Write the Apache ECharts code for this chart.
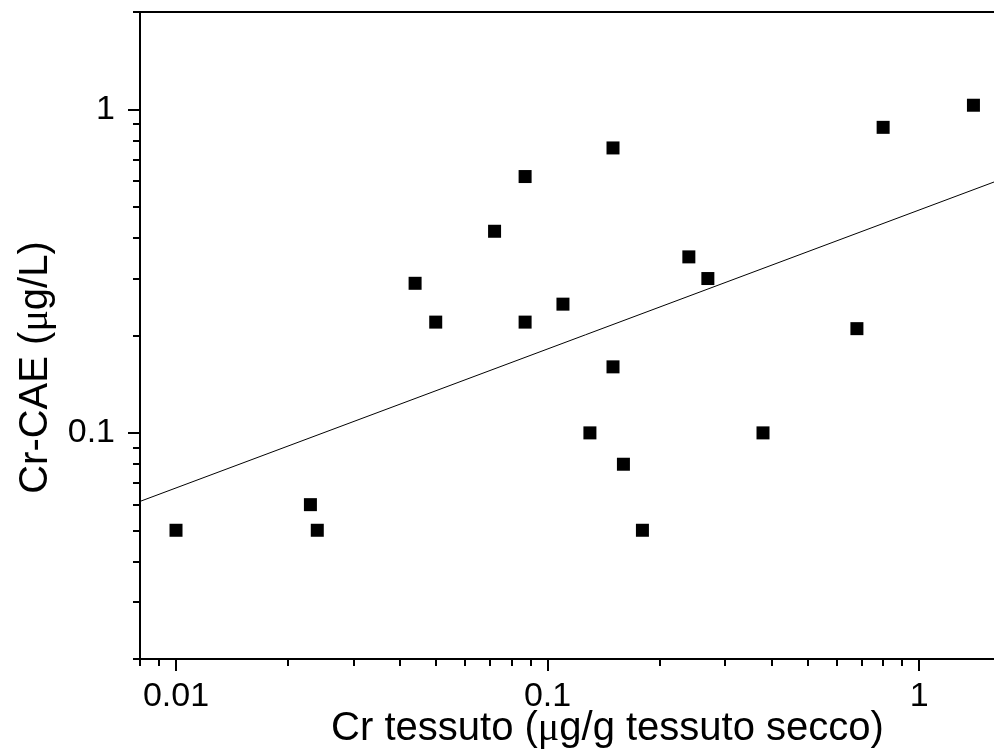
<!DOCTYPE html>
<html><head><meta charset="utf-8">
<script src="https://cdn.jsdelivr.net/npm/echarts@6/dist/echarts.min.js"></script>
<style>html,body{margin:0;padding:0;overflow:hidden;background:#fff}#c{width:1100px;height:754px}</style>
</head><body><div id="c"></div>
<script>
// Data
const tissueCr = [0.010, 0.023, 0.024, 0.044, 0.050, 0.072, 0.087, 0.087, 0.110, 0.150, 0.150, 0.130, 0.160, 0.180, 0.240, 0.270, 0.380, 0.680, 0.800, 1.40];
const caeCr    = [0.050, 0.060, 0.050, 0.290, 0.220, 0.420, 0.620, 0.220, 0.250, 0.760, 0.160, 0.100, 0.080, 0.050, 0.350, 0.300, 0.100, 0.210, 0.880, 1.03];
// regression line end points (log-log straight line)
const fitX = [0.008, 2];
const fitY = [0.0614, 0.658];
// axis ticks
const xRange = [0.008, 2];
const yRange = [0.02, 2];
const xMajorTicks = [0.01, 0.1, 1];
const xMinorTicks = [0.008, 0.009, 0.02, 0.03, 0.04, 0.05, 0.06, 0.07, 0.08, 0.09, 0.2, 0.3, 0.4, 0.5, 0.6, 0.7, 0.8, 0.9, 2];
const yMajorTicks = [0.1, 1];
const yMinorTicks = [0.02, 0.03, 0.04, 0.05, 0.06, 0.07, 0.08, 0.09, 0.2, 0.3, 0.4, 0.5, 0.6, 0.7, 0.8, 0.9, 2];
const xTitle = 'Cr tessuto ({mu|\u03bc}g/g tessuto secco)';
const yTitle = 'Cr-CAE ({mu|\u03bc}g/L)';

const FONT = '"Liberation Sans", Arial, sans-serif';
const fmt = v => String(+(+v).toPrecision(6));

const chart = echarts.init(document.getElementById('c'), null, {renderer: 'canvas'});
const majorAxisCommon = (ticks, margin) => ({
  axisLine: {show: true, onZero: false, lineStyle: {color: '#000', width: 2}},
  axisTick: {show: true, inside: false, length: 12, lineStyle: {color: '#000', width: 2}, customValues: ticks},
  axisLabel: {show: true, customValues: ticks, formatter: fmt, color: '#000', fontFamily: FONT, fontSize: 34, margin: margin},
  splitLine: {show: false},
  minorTick: {show: false}
});
const minorAxis = (ticks) => ({
  axisLine: {show: false, onZero: false},
  axisTick: {show: true, inside: false, length: 7, lineStyle: {color: '#000', width: 2}, customValues: ticks},
  axisLabel: {show: false},
  splitLine: {show: false}
});

chart.setOption({
  animation: false,
  backgroundColor: '#fff',
  grid: {left: 140, top: 12, right: 69, bottom: 94, show: true, borderColor: '#000', borderWidth: 2, containLabel: false},
  xAxis: [
    Object.assign({
      type: 'log', logBase: 10, min: xRange[0], max: xRange[1], position: 'bottom',
      name: xTitle, nameLocation: 'middle', nameGap: 50, nameMoveOverlap: false,
      nameTextStyle: {color: '#000', fontFamily: FONT, fontSize: 40, padding: [0, 0, 0, 44],
        rich: {mu: {fontFamily: '"Liberation Serif", "DejaVu Serif", serif', fontSize: 40, color: '#000'}}}
    }, majorAxisCommon(xMajorTicks, 21)),
    Object.assign({type: 'log', logBase: 10, min: xRange[0], max: xRange[1], position: 'bottom'}, minorAxis(xMinorTicks))
  ],
  yAxis: [
    Object.assign({
      type: 'log', logBase: 10, min: yRange[0], max: yRange[1], position: 'left',
      name: yTitle, nameLocation: 'middle', nameGap: 84, nameMoveOverlap: false,
      nameTextStyle: {color: '#000', fontFamily: FONT, fontSize: 40, padding: [0, 64, 0, 0],
        rich: {mu: {fontFamily: '"Liberation Serif", "DejaVu Serif", serif', fontSize: 40, color: '#000'}}}
    }, majorAxisCommon(yMajorTicks, 25)),
    Object.assign({type: 'log', logBase: 10, min: yRange[0], max: yRange[1], position: 'left'}, minorAxis(yMinorTicks))
  ],
  series: [
    {
      type: 'line', xAxisIndex: 0, yAxisIndex: 0, silent: true, showSymbol: false, symbol: 'none',
      data: fitX.map((x, i) => [x, fitY[i]]),
      lineStyle: {color: '#000', width: 1}, z: 2, clip: true
    },
    {
      type: 'scatter', xAxisIndex: 0, yAxisIndex: 0, symbol: 'rect', symbolSize: 13,
      data: tissueCr.map((x, i) => [x, caeCr[i]]),
      itemStyle: {color: '#000', opacity: 1}, z: 3
    }
  ]
});
</script></body></html>
